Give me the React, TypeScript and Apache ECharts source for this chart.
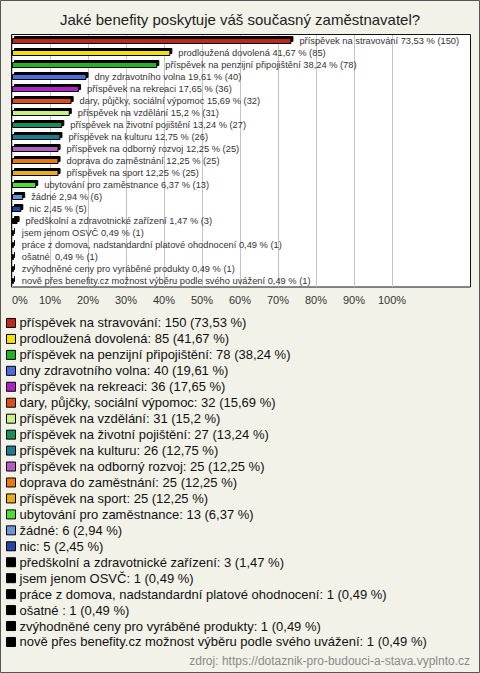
import React, { useEffect, useRef } from "react";
import * as echarts from "echarts";

const TITLE = "Jaké benefity poskytuje váš současný zaměstnavatel?";
const SOURCE = "zdroj: https://dotaznik-pro-budouci-a-stava.vyplnto.cz";

const categories = [
  "příspěvek na stravování",
  "prodloužená dovolená",
  "příspěvek na penzijní připojištění",
  "dny zdravotního volna",
  "příspěvek na rekreaci",
  "dary, půjčky, sociální výpomoc",
  "příspěvek na vzdělání",
  "příspěvek na životní pojištění",
  "příspěvek na kulturu",
  "příspěvek na odborný rozvoj",
  "doprava do zaměstnání",
  "příspěvek na sport",
  "ubytování pro zaměstnance",
  "žádné",
  "nic",
  "předškolní a zdravotnické zařízení",
  "jsem jenom OSVČ",
  "práce z domova, nadstandardní platové ohodnocení",
  "ošatné ",
  "zvýhodněné ceny pro vyráběné produkty",
  "nově přes benefity.cz možnost výběru podle svého uvážení",
];

const counts = [150, 85, 78, 40, 36, 32, 31, 27, 26, 25, 25, 25, 13, 6, 5, 3, 1, 1, 1, 1, 1];

const percents = [
  73.53, 41.67, 38.24, 19.61, 17.65, 15.69, 15.2, 13.24, 12.75, 12.25, 12.25, 12.25, 6.37,
  2.94, 2.45, 1.47, 0.49, 0.49, 0.49, 0.49, 0.49,
];

const colors = [
  "#c0281c", "#f2e200", "#20b424", "#4a6ee0", "#b020c8", "#e04c18", "#c8f282",
  "#18905a", "#1f7d90", "#b45ec4", "#e87a10", "#e8b014", "#4ee030", "#6a96dc",
  "#2444a8", "#000000", "#000000", "#000000", "#000000", "#000000", "#000000",
];

const xTicks = [0, 10, 20, 30, 40, 50, 60, 70, 80, 90, 100];

const FONT = "Liberation Sans, Arial, sans-serif";
const fmt = (v: number) => String(v).replace(".", ",");

export default function App() {
  const ref = useRef<HTMLDivElement>(null);

  useEffect(() => {
    document.body.style.margin = "0";
    const chart = echarts.init(ref.current!, undefined, { renderer: "svg" });

    const series = categories.map((name, i) => ({
      type: "bar",
      name,
      barWidth: 6,
      barGap: "-100%",
      data: categories.map((_, j) => (j === i ? percents[i] : "-")),
      itemStyle: {
        color: colors[i],
        borderColor: "#000",
        borderWidth: 1,
        shadowColor: "#000",
        shadowBlur: 0,
        shadowOffsetX: 2,
        shadowOffsetY: -2,
      },
      label: {
        show: true,
        position: "right",
        distance: 8,
        fontFamily: FONT,
        fontSize: 9.3,
        color: "#333",
        formatter: () => `${name} ${fmt(percents[i])} % (${counts[i]})`,
      },
      silent: true,
    }));

    chart.setOption({
      animation: false,
      backgroundColor: "#f3f2e9",
      textStyle: { fontFamily: FONT },
      title: {
        text: TITLE,
        left: "center",
        top: 7,
        textStyle: { fontFamily: FONT, fontSize: 15, fontWeight: "normal", color: "#222" },
      },
      grid: { left: 12, width: 380, top: 35, height: 252, containLabel: false },
      xAxis: {
        type: "value",
        min: xTicks[0],
        max: xTicks[xTicks.length - 1],
        interval: 10,
        axisLine: { show: false },
        axisTick: { show: false },
        splitLine: { show: true, lineStyle: { color: "#c4c4c4", width: 1 } },
        axisLabel: {
          color: "#333",
          fontSize: 11,
          fontFamily: FONT,
          margin: 7,
          alignMinLabel: "left",
          formatter: (v: number) => `${v}%`,
        },
      },
      yAxis: {
        type: "category",
        data: categories,
        inverse: true,
        axisLine: { show: false },
        axisTick: { show: false },
        axisLabel: { show: false },
        splitLine: { show: false },
      },
      legend: {
        orient: "vertical",
        left: 6,
        top: 315,
        padding: 0,
        itemWidth: 9,
        itemHeight: 9,
        itemGap: 0,
        icon: "rect",
        selectedMode: false,
        itemStyle: {
          borderColor: "#000",
          borderWidth: 1,
          shadowColor: "rgba(0,0,0,0)",
          shadowOffsetX: 0,
          shadowOffsetY: 0,
        },
        textStyle: { fontFamily: FONT, fontSize: 13, color: "#111", lineHeight: 15.95, padding: [0, 0, 0, -1] },
        data: categories,
        formatter: (name: string) => {
          const i = categories.indexOf(name);
          return `${name}: ${counts[i]} (${fmt(percents[i])} %)`;
        },
      },
      graphic: [
        {
          type: "rect",
          z: -10,
          shape: { x: 0.5, y: 0.5, width: 479, height: 672 },
          style: { fill: "none", stroke: "#555", lineWidth: 1 },
        },
        {
          type: "rect",
          z: -10,
          shape: { x: 11.5, y: 34.5, width: 459, height: 252.5 },
          style: { fill: "#fff", stroke: "#111", lineWidth: 1 },
        },
        {
          type: "text",
          right: 10,
          top: 655,
          style: { text: SOURCE, fontFamily: FONT, fontSize: 12, fill: "#8a8a8a" },
        },
      ],
      series,
    });

    return () => chart.dispose();
  }, []);

  return <div ref={ref} style={{ width: 480, height: 673 }} />;
}
